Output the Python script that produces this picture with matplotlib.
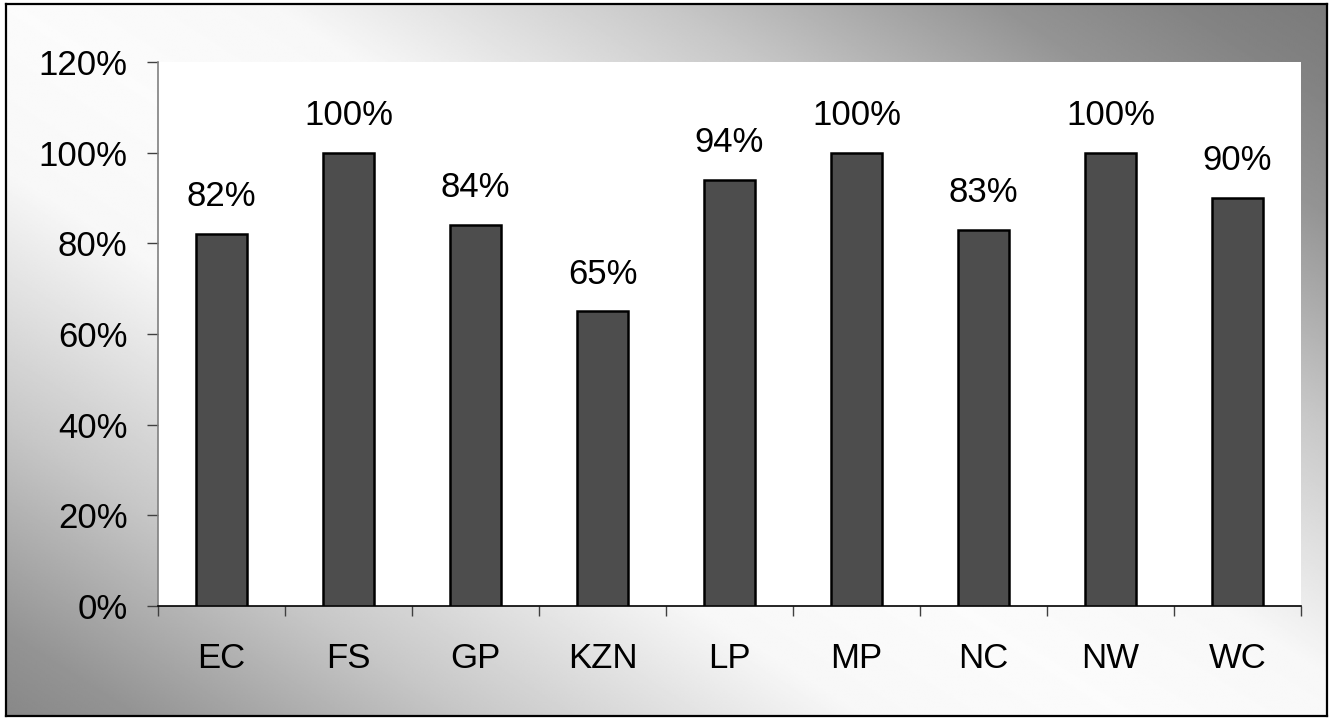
import numpy as np
import matplotlib
matplotlib.use("Agg")
import matplotlib.pyplot as plt
from matplotlib.ticker import FixedLocator, PercentFormatter

categories = ["EC", "FS", "GP", "KZN", "LP", "MP", "NC", "NW", "WC"]
values = [82, 100, 84, 65, 94, 100, 83, 100, 90]
y_ticks = [0, 20, 40, 60, 80, 100, 120]

plt.rcParams["font.family"] = ["Liberation Sans", "DejaVu Sans"]

W, H, DPI = 1331, 720, 100
FS = 25
fig = plt.figure(figsize=(W / DPI, H / DPI), dpi=DPI)
fig.patch.set_facecolor("white")

# Chart-area frame with a diagonal grey gradient (light along the main diagonal,
# darker toward the top-right and bottom-left corners)
x0, y0, x1, y1 = 6 / W, 4 / H, 1327 / W, 716 / H
bg = fig.add_axes([x0, 1 - y1, x1 - x0, y1 - y0], zorder=0)
u = np.linspace(0, 1, 800)[None, :]
v = np.linspace(0, 1, 500)[:, None]
t = np.abs(u - 0.85 * v)
shade = np.interp(t, [0.0, 0.2, 0.5, 0.75, 0.9, 1.0],
                  [0.985, 0.97, 0.78, 0.58, 0.51, 0.48])
bg.imshow(shade, cmap="gray", vmin=0, vmax=1, aspect="auto",
          extent=[0, 1, 1, 0], interpolation="bilinear")
bg.set_xlim(0, 1)
bg.set_ylim(1, 0)
bg.set_xticks([])
bg.set_yticks([])
for s in bg.spines.values():
    s.set_edgecolor("black")
    s.set_linewidth(1.6)

# Plot area
left, right = 158 / W, 1301 / W
top, bottom = 62 / H, 606 / H
ax = fig.add_axes([left, 1 - bottom, right - left, bottom - top], zorder=1)
ax.set_facecolor("white")

x = np.arange(len(categories))
ax.bar(x, values, width=0.4, color="#4d4d4d", edgecolor="black",
       linewidth=1.8, zorder=3)

for xi, val in zip(x, values):
    ax.annotate(f"{val}%", (xi, val), xytext=(0, 20), textcoords="offset points",
                ha="center", va="baseline", fontsize=FS, color="black")

ax.set_xlim(-0.5, len(categories) - 0.5)
ax.set_ylim(0, 120)
ax.set_yticks(y_ticks)
ax.yaxis.set_major_formatter(PercentFormatter(decimals=0))
ax.set_xticks(x)
ax.set_xticklabels(categories)
ax.xaxis.set_minor_locator(FixedLocator(np.arange(-0.5, len(categories), 1.0)))

ax.tick_params(axis="x", which="major", length=0, pad=26, labelsize=FS)
ax.tick_params(axis="x", which="minor", length=7.5, width=1.0, color="#404040",
               direction="out")
ax.tick_params(axis="y", which="major", length=8, width=1.0, color="#404040",
               direction="out", pad=14, labelsize=FS)

ax.spines["top"].set_visible(False)
ax.spines["right"].set_visible(False)
ax.spines["left"].set_color("#808080")
ax.spines["left"].set_linewidth(1.2)
ax.spines["bottom"].set_color("black")
ax.spines["bottom"].set_linewidth(1.2)

fig.savefig("out.png", dpi=DPI)
